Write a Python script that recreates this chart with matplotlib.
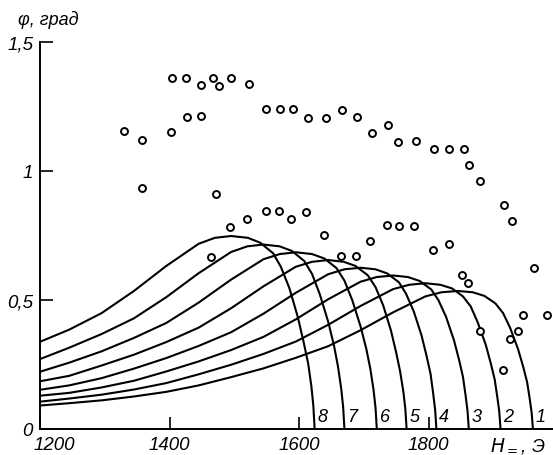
import matplotlib
matplotlib.use("Agg")
import matplotlib.pyplot as plt
import matplotlib.transforms as mtransforms

# curves 1..8: phi (rad) vs H (Oe)
h1 = [1200, 1245, 1295, 1345, 1395, 1445, 1495, 1545, 1595, 1645, 1695, 1745, 1795, 1820, 1845,
      1868, 1886, 1903, 1915, 1926, 1938, 1946, 1952, 1956, 1959, 1961]
phi1 = [0.091, 0.100, 0.111, 0.126, 0.144, 0.169, 0.201, 0.235, 0.276, 0.321, 0.383, 0.452, 0.514, 0.530, 0.535,
        0.530, 0.516, 0.487, 0.449, 0.391, 0.310, 0.241, 0.182, 0.118, 0.064, 0.0]

h2 = [1200, 1245, 1295, 1345, 1395, 1445, 1495, 1545, 1595, 1645, 1695, 1745, 1770, 1795,
      1818, 1836, 1853, 1865, 1876, 1888, 1896, 1902, 1906, 1909, 1911]
phi2 = [0.106, 0.118, 0.133, 0.153, 0.178, 0.212, 0.249, 0.291, 0.339, 0.404, 0.477, 0.542, 0.559, 0.565,
        0.559, 0.545, 0.514, 0.475, 0.412, 0.328, 0.254, 0.192, 0.124, 0.068, 0.0]

h3 = [1200, 1245, 1295, 1345, 1395, 1445, 1495, 1545, 1595, 1645, 1695, 1720, 1745,
      1768, 1786, 1804, 1815, 1827, 1839, 1847, 1853, 1857, 1860, 1862]
phi3 = [0.129, 0.140, 0.161, 0.187, 0.223, 0.262, 0.306, 0.357, 0.425, 0.503, 0.571, 0.589, 0.595,
        0.589, 0.574, 0.541, 0.500, 0.434, 0.345, 0.268, 0.202, 0.131, 0.071, 0.0]

h4 = [1200, 1245, 1295, 1345, 1395, 1445, 1495, 1545, 1595, 1645, 1670, 1695,
      1718, 1736, 1754, 1765, 1777, 1789, 1797, 1803, 1807, 1810, 1812]
phi4 = [0.152, 0.169, 0.197, 0.234, 0.275, 0.322, 0.375, 0.447, 0.528, 0.600, 0.619, 0.625,
        0.619, 0.603, 0.569, 0.525, 0.456, 0.363, 0.281, 0.213, 0.138, 0.075, 0.0]

h5 = [1200, 1245, 1295, 1345, 1395, 1445, 1495, 1545, 1595, 1620, 1645,
      1669, 1687, 1706, 1718, 1730, 1742, 1750, 1756, 1761, 1764, 1766]
phi5 = [0.185, 0.206, 0.246, 0.288, 0.337, 0.393, 0.468, 0.553, 0.629, 0.648, 0.655,
        0.648, 0.632, 0.596, 0.550, 0.478, 0.380, 0.295, 0.223, 0.144, 0.079, 0.0]

h6 = [1200, 1245, 1295, 1345, 1395, 1445, 1495, 1545, 1570, 1595,
      1620, 1639, 1658, 1670, 1682, 1695, 1704, 1710, 1715, 1718, 1720]
phi6 = [0.222, 0.257, 0.301, 0.353, 0.411, 0.490, 0.579, 0.658, 0.678, 0.685,
        0.678, 0.661, 0.623, 0.575, 0.500, 0.397, 0.308, 0.233, 0.151, 0.082, 0.0]

h7 = [1200, 1245, 1295, 1345, 1395, 1445, 1495, 1520, 1545,
      1570, 1589, 1608, 1620, 1632, 1645, 1654, 1660, 1665, 1668, 1670]
phi7 = [0.271, 0.315, 0.368, 0.429, 0.511, 0.604, 0.686, 0.708, 0.715,
        0.708, 0.690, 0.651, 0.601, 0.522, 0.415, 0.322, 0.243, 0.157, 0.086, 0.0]

h8 = [1200, 1245, 1295, 1345, 1395, 1445, 1470, 1495,
      1521, 1540, 1560, 1572, 1585, 1598, 1607, 1614, 1619, 1622, 1624]
phi8 = [0.338, 0.385, 0.449, 0.535, 0.632, 0.718, 0.741, 0.748,
        0.741, 0.722, 0.681, 0.628, 0.546, 0.434, 0.337, 0.254, 0.165, 0.090, 0.0]

curve_names = ["1", "2", "3", "4", "5", "6", "7", "8"]

# measured points (open circles)
exp_h = [1404, 1426, 1448, 1467, 1476, 1495, 1522, 1549, 1570, 1590, 1613, 1641, 1667, 1689,
         1712, 1737, 1753, 1780, 1808, 1832, 1855, 1862, 1880, 1917, 1928,
         1427, 1448, 1330, 1357, 1403, 1357, 1472,
         1493, 1520, 1549, 1569, 1588, 1611, 1639, 1710, 1735, 1754, 1777, 1664, 1688,
         1806, 1831, 1962, 1852, 1860, 1946, 1982, 1879, 1938, 1926, 1915, 1464]
exp_phi = [1.362, 1.362, 1.332, 1.362, 1.328, 1.360, 1.336, 1.239, 1.239, 1.239, 1.207, 1.207, 1.236, 1.208,
           1.147, 1.177, 1.113, 1.115, 1.085, 1.084, 1.084, 1.022, 0.962, 0.868, 0.806,
           1.208, 1.212, 1.154, 1.119, 1.151, 0.936, 0.909,
           0.784, 0.815, 0.844, 0.844, 0.815, 0.841, 0.751, 0.728, 0.789, 0.788, 0.788, 0.669, 0.669,
           0.694, 0.717, 0.624, 0.595, 0.564, 0.440, 0.441, 0.381, 0.381, 0.349, 0.230, 0.666]

xticks = [1200, 1400, 1600, 1800]
xtick_labels = ["1200", "1400", "1600", "1800"]
yticks = [0, 0.5, 1, 1.5]
ytick_labels = ["0", "0,5", "1", "1,5"]

fig = plt.figure(figsize=(5.53, 4.56), dpi=100)
ax = fig.add_axes([40 / 553, 26 / 456, 513 / 553, 387 / 456])

curves = [(h1, phi1), (h2, phi2), (h3, phi3), (h4, phi4),
          (h5, phi5), (h6, phi6), (h7, phi7), (h8, phi8)]
for (h, phi), name in zip(curves, curve_names):
    ax.plot(h, phi, color="black", lw=1.5, solid_capstyle="butt")
    ax.text(h[-1] + 12, 0.05, name, fontsize=13, style="italic",
            family=["Liberation Sans", "DejaVu Sans"], ha="center", va="center")

ax.plot(exp_h, exp_phi, "o", ms=5.0, mfc="white", mec="black", mew=1.4, clip_on=False)

ax.set_xlim(1200, 1992)
ax.set_ylim(0, 1.5)
ax.spines["top"].set_visible(False)
ax.spines["right"].set_visible(False)
ax.spines["left"].set_linewidth(1.4)
ax.spines["bottom"].set_linewidth(1.4)
ax.set_xticks(xticks)
ax.set_xticklabels(xtick_labels)
ax.set_yticks(yticks)
ax.set_yticklabels(ytick_labels)
ax.tick_params(direction="in", length=9, width=1.2, labelsize=13.5, pad=5)
for lab in ax.get_xticklabels() + ax.get_yticklabels():
    lab.set_fontstyle("italic")
    lab.set_family(["Liberation Sans", "DejaVu Sans"])

# the first x label sits to the right of its tick, clear of the "0"
first = ax.get_xticklabels()[0]
first.set_transform(first.get_transform() +
                    mtransforms.ScaledTranslation(14 / 100, 0, fig.dpi_scale_trans))

fig.text(18 / 553, 1 - 20 / 456, "φ, град", fontsize=13, style="italic",
         family=["Liberation Sans", "DejaVu Sans"], ha="left", va="center")
fig.text(490 / 553, 1 - 446 / 456, "$H_=$, Э", fontsize=13.5, style="italic",
         family=["Liberation Sans", "DejaVu Sans"], ha="left", va="center")

fig.savefig("out.png", dpi=100)
